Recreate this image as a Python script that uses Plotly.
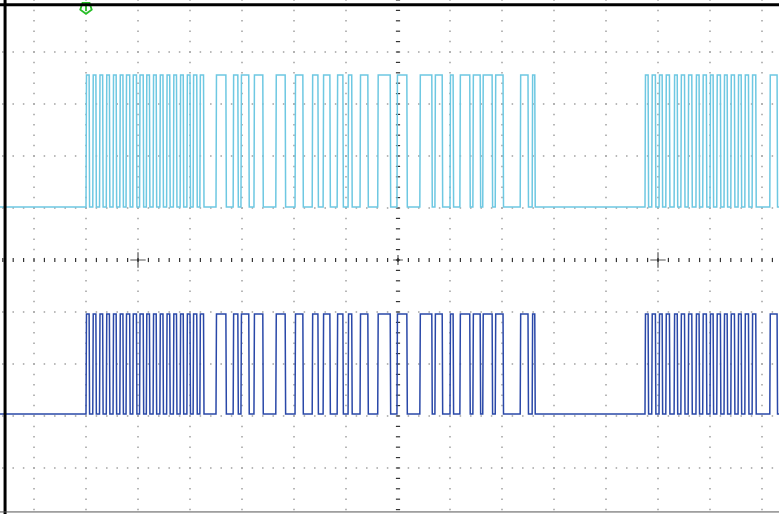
import numpy as np
import plotly.graph_objects as go

# ---- data (time in microseconds, trigger at t=0; 100 us per division) ----
ch1_rise = [0, 13, 26, 39, 52, 65, 77, 90, 103, 116, 129, 142, 155, 168, 181, 194, 206, 219,
            250, 283, 298, 323, 365, 402, 435, 456, 483, 504, 527, 561, 598, 642, 671, 700,
            719, 744, 763, 787, 835, 858,
            1075, 1088, 1102, 1115, 1131, 1144, 1158, 1173, 1186, 1200, 1213, 1227, 1240,
            1254, 1267, 1281, 1315]
ch1_fall = [6, 19, 32, 45, 58, 71, 84, 97, 110, 122, 135, 148, 161, 174, 187, 200, 213, 226,
            269, 292, 313, 340, 383, 417, 446, 469, 494, 511, 542, 585, 617, 665, 685, 706,
            738, 758, 781, 802, 850, 863,
            1081, 1095, 1108, 1122, 1137, 1151, 1165, 1179, 1193, 1206, 1220, 1233, 1247,
            1260, 1274, 1288, 1329]
ch2_rise = list(ch1_rise)
ch2_fall = list(ch1_fall)

ch1_low, ch1_high = 1.02, 3.56     # levels in divisions
ch2_low, ch2_high = -2.96, -1.04

T_DIV = 100.0          # us per division
T_CENTER = 600.0       # time at screen centre
T_MIN, T_MAX = -165.4, 1332.7
Y_MIN, Y_MAX = -4.885, 5.0


def step_trace(rises, falls, lo, hi, tr=0.9):
    xs, ys = [T_MIN], [lo]
    for r, f in zip(rises, falls):
        xs += [r, r + tr, f, f + tr]
        ys += [lo, hi, hi, lo]
    xs.append(T_MAX)
    ys.append(lo)
    return xs, ys


fig = go.Figure()

# ---- graticule dots ----
gx, gy = [], []
minor_t = np.arange(T_CENTER - 8 * T_DIV, T_CENTER + 8 * T_DIV + 1, T_DIV / 5)
minor_v = np.arange(-5, 5.01, 0.2)
for k in range(-7, 8):
    if k == 0:
        continue
    t = T_CENTER + k * T_DIV
    for v in minor_v:
        gx.append(t); gy.append(v)
for j in range(-4, 5):
    if j == 0:
        continue
    for t in minor_t:
        gx.append(t); gy.append(j)
fig.add_trace(go.Scatter(x=gx, y=gy, mode="markers", hoverinfo="skip",
                         marker=dict(symbol="square", size=1.5, color="#a0a0a0", line=dict(width=0))))

# centre axes with tick marks
cx = [T_CENTER] * len(minor_v)
fig.add_trace(go.Scatter(x=cx, y=list(minor_v), mode="markers", hoverinfo="skip",
                         marker=dict(symbol="line-ew", size=3, line=dict(width=1.2, color="#333"))))
fig.add_trace(go.Scatter(x=list(minor_t), y=[0] * len(minor_t), mode="markers", hoverinfo="skip",
                         marker=dict(symbol="line-ns", size=3, line=dict(width=1.2, color="#333"))))
fig.add_trace(go.Scatter(x=[T_CENTER - 5 * T_DIV, T_CENTER, T_CENTER + 5 * T_DIV], y=[0, 0, 0],
                         mode="markers", hoverinfo="skip",
                         marker=dict(symbol="cross-thin", size=[11, 7, 11], line=dict(width=1.2, color="#111"))))

# ---- signals ----
x1, y1 = step_trace(ch1_rise, ch1_fall, ch1_low, ch1_high)
fig.add_trace(go.Scatter(x=x1, y=y1, mode="lines", line=dict(color="rgb(110,200,226)", width=1.5),
                         hoverinfo="skip"))
x2, y2 = step_trace(ch2_rise, ch2_fall, ch2_low, ch2_high)
fig.add_trace(go.Scatter(x=x2, y=y2, mode="lines", line=dict(color="rgb(42,72,168)", width=1.5),
                         hoverinfo="skip"))

# trigger marker
GREEN = "rgb(40,190,40)"
fig.add_trace(go.Scatter(x=[0], y=[4.85], mode="markers", hoverinfo="skip",
                         marker=dict(symbol="pentagon-open", angle=180, size=12, color=GREEN,
                                     line=dict(width=1.8, color=GREEN))))
fig.add_trace(go.Scatter(x=[0], y=[4.87], mode="markers", hoverinfo="skip",
                         marker=dict(symbol="line-ns", size=6, color=GREEN,
                                     line=dict(width=1.8, color=GREEN))))

# ---- frame ----
shapes = [
    dict(type="line", xref="paper", yref="paper", x0=0.0065, x1=0.0065, y0=0, y1=1,
         line=dict(color="black", width=3)),
    dict(type="line", xref="paper", yref="paper", x0=0, x1=1, y0=0.991, y1=0.991,
         line=dict(color="black", width=3)),
    dict(type="line", xref="paper", yref="paper", x0=0, x1=1, y0=0.004, y1=0.004,
         line=dict(color="#555", width=1)),
]

fig.update_layout(
    width=779, height=514, margin=dict(l=0, r=0, t=0, b=0),
    paper_bgcolor="white", plot_bgcolor="white", showlegend=False,
    xaxis=dict(range=[T_MIN, T_MAX], visible=False, fixedrange=True),
    yaxis=dict(range=[Y_MIN, Y_MAX], visible=False, fixedrange=True),
    shapes=shapes,
)

fig.write_html("out.html", config={"displayModeBar": False},
               post_script="document.body.style.margin='0';document.body.style.overflow='hidden';")
